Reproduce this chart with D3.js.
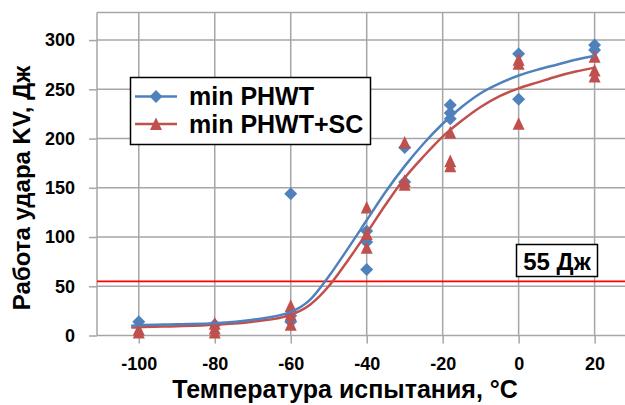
<!DOCTYPE html>
<html>
<head>
<meta charset="utf-8">
<script src="https://cdn.jsdelivr.net/npm/d3@7"></script>
<style>
  html, body { margin: 0; padding: 0; background: #fff; }
  svg text { font-family: "Liberation Sans", Arial, sans-serif; font-weight: bold; fill: #000; }
</style>
</head>
<body>
<div id="chart"></div>
<script>
// Markers: test temperature (°C) and impact energy KV (J)
const phwtT  = [-100, -80, -60, -60, -60, -40, -40, -40, -30, -30, -18, -18, -18, 0, 0, 20, 20]
const phwtKV = [14, 11, 144, 20, 14, 106, 95, 67, 191, 156, 234, 226, 220, 286, 240, 295, 290]

const scT  = [-100, -100, -80, -80, -80, -60, -60, -60, -40, -40, -40, -30, -30, -30, -18, -18, -18, 0, 0, 0, 20, 20, 20]
const scKV = [7, 4, 13, 8, 4, 31, 22, 12, 131, 104, 90, 197, 158, 154, 207, 178, 173, 281, 277, 216, 284, 270, 264]

// Fitted curves
const fitT      = [-102, -100, -90, -80, -70, -60, -55, -50, -45, -40, -35, -30, -25, -20, -15, -10, -5, 0, 5, 10, 15, 20]
const phwtFitKV = [10, 10.5, 11.5, 12.5, 16, 24, 36, 60, 88, 117, 146, 172, 195, 215, 232, 246, 256, 264, 270, 275, 280, 284]
const scFitKV   = [8, 8.5, 9.5, 11, 14, 21, 31, 50, 76, 104, 133, 160, 182, 202, 218, 232, 243, 251, 257, 263, 268, 272]

const xTicks = [-100, -80, -60, -40, -20, 0, 20]
const yTicks = [0, 50, 100, 150, 200, 250, 300]
const limitKV = 55

const seriesNames = ["min PHWT", "min PHWT+SC"]
const blue = "#4f81bd"
const red = "#c0504d"

const width = 625, height = 405

const svg = d3.select("#chart").append("svg")
  .attr("width", width)
  .attr("height", height)

const x = d3.scaleLinear().domain([-111, 28]).range([97, 625])
const y = d3.scaleLinear().domain([0, 328]).range([335.5, 12.5])

// grid
const grid = svg.append("g").attr("stroke", "#a6a6a6").attr("stroke-width", 1.5)
grid.selectAll("line.h").data(yTicks.slice(1).concat([328])).join("line")
  .attr("x1", x(-111)).attr("x2", width)
  .attr("y1", d => y(d)).attr("y2", d => y(d))
grid.selectAll("line.v").data(xTicks).join("line")
  .attr("x1", d => x(d)).attr("x2", d => x(d))
  .attr("y1", y(328)).attr("y2", y(0))

// axes (plain hyphen for negatives, as in the original)
const xAxis = svg.append("g")
  .attr("transform", `translate(0,${y(0)})`)
  .call(d3.axisBottom(x).tickValues(xTicks).tickFormat(d => String(d))
    .tickSize(8).tickPadding(14).tickSizeOuter(0))
const yAxis = svg.append("g")
  .attr("transform", `translate(${x(-111)},0)`)
  .call(d3.axisLeft(y).tickValues(yTicks).tickFormat(d => String(d))
    .tickSize(8).tickPadding(14).tickSizeOuter(0))

svg.selectAll(".domain, .tick line").attr("stroke", "#a6a6a6").attr("stroke-width", 1.5)
svg.selectAll(".tick text").attr("font-size", "18px").attr("fill", "#000")
xAxis.select(".domain").attr("d", `M${x(-111)},0H${width}`)
yAxis.select(".domain").attr("d", `M0,${y(328)}V${y(0)}`)

// 55 J limit line
svg.append("line")
  .attr("x1", x(-111)).attr("x2", width)
  .attr("y1", y(limitKV)).attr("y2", y(limitKV))
  .attr("stroke", "#ff0000").attr("stroke-width", 1.8)

// marker shapes
const diamond = {
  draw(ctx, size) {
    const r = Math.sqrt(size / 2)
    ctx.moveTo(0, -r); ctx.lineTo(r, 0); ctx.lineTo(0, r); ctx.lineTo(-r, 0); ctx.closePath()
  }
}
const triangle = {
  draw(ctx, size) {
    const w = Math.sqrt(size * 2) / 2
    ctx.moveTo(0, -w * 1.1); ctx.lineTo(w, w * 1.0); ctx.lineTo(-w, w * 1.0); ctx.closePath()
  }
}
const diamondPath = d3.symbol().type(diamond).size(84)
const trianglePath = d3.symbol().type(triangle).size(72)

svg.append("g").selectAll("path").data(phwtT).join("path")
  .attr("d", diamondPath)
  .attr("transform", (d, i) => `translate(${x(d)},${y(phwtKV[i])})`)
  .attr("fill", blue)

svg.append("g").selectAll("path").data(scT).join("path")
  .attr("d", trianglePath)
  .attr("transform", (d, i) => `translate(${x(d)},${y(scKV[i]) + 1})`)
  .attr("fill", red)

// fitted curves
const line = vals => d3.line()
  .x(d => x(d))
  .y((d, i) => y(vals[i]))
  .curve(d3.curveMonotoneX)

svg.append("path").datum(fitT)
  .attr("d", line(scFitKV))
  .attr("fill", "none").attr("stroke", red).attr("stroke-width", 2.5)
svg.append("path").datum(fitT)
  .attr("d", line(phwtFitKV))
  .attr("fill", "none").attr("stroke", blue).attr("stroke-width", 2.5)

// axis titles
svg.append("text")
  .attr("x", 345).attr("y", 398)
  .attr("text-anchor", "middle")
  .attr("font-size", "25px")
  .text("Температура испытания, °C")

svg.append("text")
  .attr("transform", "translate(30,188) rotate(-90)")
  .attr("text-anchor", "middle")
  .attr("font-size", "24px")
  .text("Работа удара KV, Дж")

// legend
const legend = svg.append("g")
legend.append("rect")
  .attr("x", 130.5).attr("y", 77.5).attr("width", 240).attr("height", 67)
  .attr("fill", "#fff").attr("stroke", "#000").attr("stroke-width", 1.5)

const legendRows = [
  { name: seriesNames[0], color: blue, sym: diamondPath, cy: 96.5 },
  { name: seriesNames[1], color: red, sym: trianglePath, cy: 124 }
]
legendRows.forEach(r => {
  legend.append("line")
    .attr("x1", 135).attr("x2", 177).attr("y1", r.cy).attr("y2", r.cy)
    .attr("stroke", r.color).attr("stroke-width", 2.5)
  legend.append("path").attr("d", r.sym)
    .attr("transform", `translate(156,${r.cy})`).attr("fill", r.color)
  legend.append("text")
    .attr("x", 189).attr("y", r.cy + 8.5)
    .attr("font-size", "25px")
    .text(r.name)
})

// 55 J label box
svg.append("rect")
  .attr("x", 516.5).attr("y", 244.5).attr("width", 81).attr("height", 32)
  .attr("fill", "#fff").attr("stroke", "#000").attr("stroke-width", 1.5)
svg.append("text")
  .attr("x", 557).attr("y", 270)
  .attr("text-anchor", "middle")
  .attr("font-size", "24px")
  .text(`${limitKV} Дж`)
</script>
</body>
</html>
